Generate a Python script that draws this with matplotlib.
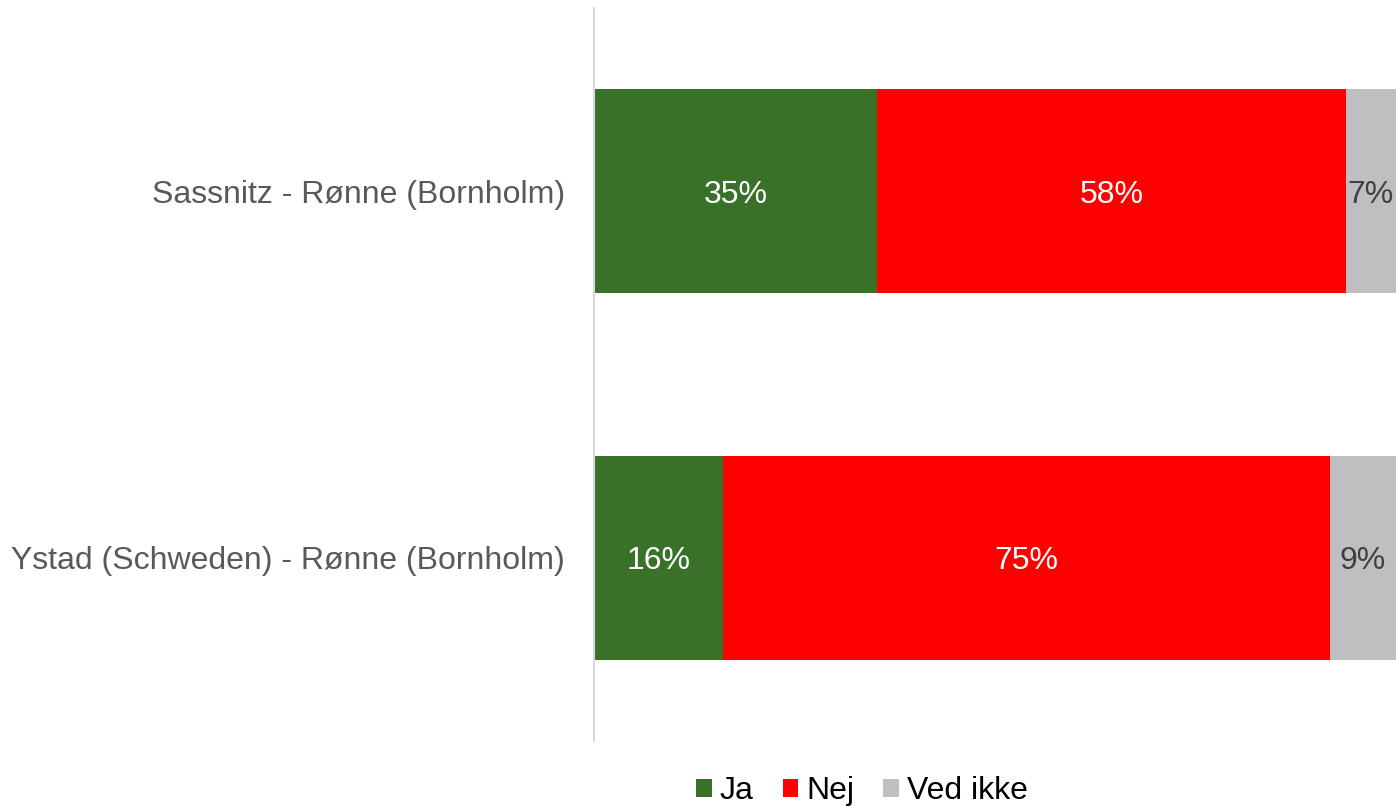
import numpy as np
import matplotlib.pyplot as plt

plt.rcParams['font.family'] = ['Liberation Sans', 'DejaVu Sans']

routes = ['Ystad (Schweden) - Rønne (Bornholm)', 'Sassnitz - Rønne (Bornholm)']
ja = [16, 35]
nej = [75, 58]
ved_ikke = [9, 7]

series = [('Ja', ja, '#3A7128', 'white'),
          ('Nej', nej, '#FF0000', 'white'),
          ('Ved ikke', ved_ikke, '#BFBFBF', '#404040')]

xmax = 99.2

fig = plt.figure(figsize=(13.96, 8.06), dpi=100)
ax = fig.add_axes([594 / 1396, 1 - 741 / 806, 1 - 594 / 1396, 733 / 806])

y = np.arange(len(routes))
left = np.zeros(len(routes))
for name, vals, color, tcolor in series:
    vals = np.array(vals, dtype=float)
    ax.barh(y, vals, left=left, height=0.557, color=color, label=name)
    for yi, l, v in zip(y, left, vals):
        xc = (l + min(l + v, xmax)) / 2
        ax.text(xc, yi, f'{int(v)}%', ha='center', va='center_baseline',
                color=tcolor, fontsize=23)
    left += vals

ax.set_xlim(0, xmax)
ax.set_ylim(-0.5, 1.5)
ax.set_yticks(y)
ax.set_yticklabels(routes, fontsize=23, color='#595959')
ax.tick_params(axis='y', length=0, pad=21)
ax.set_xticks([])
for s in ['top', 'right', 'bottom']:
    ax.spines[s].set_visible(False)
ax.spines['left'].set_color('#D9D9D9')
ax.spines['left'].set_linewidth(1.5)

fig.legend(loc='center', bbox_to_anchor=(862 / 1396, 1 - 791 / 806), ncol=3,
           frameon=False, fontsize=23, handlelength=0.5, handleheight=0.5,
           handletextpad=0.25, columnspacing=0.9)

fig.savefig('out.png', dpi=100)
